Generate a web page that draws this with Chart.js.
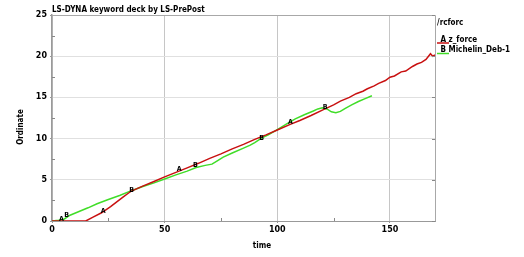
<!DOCTYPE html>
<html>
<head>
<meta charset="utf-8">
<script src="https://cdn.jsdelivr.net/npm/chart.js@4/dist/chart.umd.min.js"></script>
<style>
  html, body { margin: 0; padding: 0; background: #fff; }
  #wrap { width: 524px; height: 257px; }
</style>
</head>
<body>
<div id="wrap"><canvas id="c" width="524" height="257"></canvas></div>
<script>
// ---- data ----
const chartTitle = "LS-DYNA keyword deck by LS-PrePost";
const xTitle = "time";
const yTitle = "Ordinate";
const legendHeader = "/rcforc";
const seriesNames = ["z_force", "Michelin_Deb-1"];
const seriesTags = ["A", "B"];

const xTicks = [0, 50, 100, 150];
const yTicks = [0, 5, 10, 15, 20, 25];
const xMinorTicks = [25, 75, 125];
const yMinorTicks = [2.5, 7.5, 12.5, 17.5, 22.5];

// Series A: z_force (red)
const timeA = [0, 15, 18, 22, 26, 31.5, 34, 35, 40, 45, 50, 55, 60, 65, 70, 75, 80, 85, 90, 95, 100, 106, 110, 115, 120, 125, 128, 132, 135, 138, 140, 143, 145, 148, 150, 152, 155, 157, 160, 162, 164, 166, 168, 169, 170];
const valA  = [0, 0, 0.45, 1.0, 1.75, 2.9, 3.4, 3.6, 4.2, 4.77, 5.35, 5.9, 6.45, 7.0, 7.6, 8.15, 8.75, 9.3, 9.9, 10.45, 11.05, 11.75, 12.2, 12.8, 13.45, 14.1, 14.55, 15.0, 15.45, 15.75, 16.05, 16.4, 16.7, 17.05, 17.45, 17.6, 18.1, 18.2, 18.75, 19.05, 19.25, 19.6, 20.3, 20.0, 20.15];

// Series B: Michelin_Deb-1 (green)
const timeB = [0, 3, 5.5, 8, 12, 16, 20, 25, 30, 35, 40, 45, 50, 55, 60, 64, 68, 71, 73, 76, 80, 85, 88, 90, 93, 96, 100, 104, 108, 112, 116, 118, 120, 122, 124, 126, 128, 130, 133, 136, 139, 142];
const valB  = [0, 0.1, 0.25, 0.7, 1.15, 1.6, 2.1, 2.6, 3.1, 3.65, 4.15, 4.6, 5.1, 5.6, 6.05, 6.5, 6.75, 6.9, 7.25, 7.75, 8.25, 8.85, 9.2, 9.5, 10.05, 10.45, 11.1, 11.75, 12.4, 12.9, 13.35, 13.6, 13.75, 13.6, 13.25, 13.15, 13.3, 13.65, 14.1, 14.5, 14.85, 15.2];

// Curve tag label positions (data coords)
const tagAx = [4.2, 22.7, 56.4, 105.8];
const tagAy = [0.25, 1.25, 6.27, 12.0];
const tagBx = [6.5, 35.3, 63.7, 93.1, 121.2];
const tagBy = [0.73, 3.76, 6.8, 10.1, 13.87];

// ---- styling ----
const RED = "#c81010";
const GREEN = "#40dd28";
const FONT = "'DejaVu Sans Condensed', 'DejaVu Sans'";

const toPts = (xs, ys) => xs.map((x, i) => ({ x: x, y: ys[i] }));

const overlay = {
  id: "overlay",
  afterDraw(chart) {
    const ctx = chart.ctx;
    const a = chart.chartArea;
    const sx = chart.scales.x, sy = chart.scales.y;
    ctx.save();
    // frame top/right
    ctx.strokeStyle = "#a8a8a8";
    ctx.lineWidth = 1;
    ctx.beginPath();
    ctx.moveTo(a.left, a.top + 0.5); ctx.lineTo(a.right + 0.5, a.top + 0.5);
    ctx.lineTo(a.right + 0.5, a.bottom);
    ctx.stroke();
    // minor ticks
    ctx.strokeStyle = "#888";
    ctx.beginPath();
    yMinorTicks.forEach(v => { const p = Math.round(sy.getPixelForValue(v)) + 0.5; ctx.moveTo(a.left, p); ctx.lineTo(a.left + 3, p); });
    xMinorTicks.forEach(v => { const p = Math.round(sx.getPixelForValue(v)) + 0.5; ctx.moveTo(p, a.bottom); ctx.lineTo(p, a.bottom - 3); });
    yTicks.forEach(v => { const p = Math.round(sy.getPixelForValue(v)) + 0.5; ctx.moveTo(a.right, p); ctx.lineTo(a.right - 3, p); });
    ctx.stroke();

    ctx.fillStyle = "#000";
    ctx.font = "bold 8px " + FONT;
    ctx.textAlign = "left"; ctx.textBaseline = "middle";
    ctx.fillText(chartTitle, 52, 9.5);
    ctx.textAlign = "center";
    ctx.fillText(xTitle, 262, 246);
    ctx.save();
    ctx.translate(20.5, 127);
    ctx.rotate(-Math.PI / 2);
    ctx.fillText(yTitle, 0, 0);
    ctx.restore();
    // legend
    ctx.textAlign = "left";
    ctx.fillText(legendHeader, 437, 22.5);
    const colors = [RED, GREEN];
    const ly = [39.5, 50];
    for (let i = 0; i < 2; i++) {
      ctx.fillStyle = "#000";
      ctx.fillText(seriesTags[i] + " " + seriesNames[i], 440.5, ly[i]);
      ctx.strokeStyle = colors[i];
      ctx.lineWidth = 1.5;
      ctx.beginPath();
      ctx.moveTo(437, ly[i] + 3.5); ctx.lineTo(449, ly[i] + 3.5);
      ctx.stroke();
    }
    // curve tags
    ctx.fillStyle = "#000";
    ctx.font = "bold 7px " + FONT;
    ctx.textAlign = "center";
    tagAx.forEach((x, i) => ctx.fillText("A", sx.getPixelForValue(x), sy.getPixelForValue(tagAy[i])));
    tagBx.forEach((x, i) => ctx.fillText("B", sx.getPixelForValue(x), sy.getPixelForValue(tagBy[i])));
    ctx.restore();
  }
};

new Chart(document.getElementById("c"), {
  type: "scatter",
  data: {
    datasets: [
      { label: seriesTags[0] + " " + seriesNames[0], data: toPts(timeA, valA), showLine: true, borderColor: RED, backgroundColor: RED, borderWidth: 1.5, pointRadius: 0, tension: 0 },
      { label: seriesTags[1] + " " + seriesNames[1], data: toPts(timeB, valB), showLine: true, borderColor: GREEN, backgroundColor: GREEN, borderWidth: 1.5, pointRadius: 0, tension: 0 }
    ]
  },
  options: {
    responsive: false,
    animation: false,
    devicePixelRatio: 1,
    layout: { padding: { left: 0, top: 15, right: 89, bottom: 0 } },
    plugins: { legend: { display: false }, title: { display: false }, tooltip: { enabled: false } },
    scales: {
      x: {
        type: "linear", min: 0, max: 170,
        afterBuildTicks: s => { s.ticks = xTicks.map(v => ({ value: v })); },
        afterFit: s => { s.height = 36; },
        grid: { color: "#c6c6c6", lineWidth: 1, drawTicks: true, tickLength: 2, tickColor: "#999" },
        border: { color: "#999", width: 1 },
        ticks: { color: "#000", font: { family: "DejaVu Sans", size: 8, weight: "bold" }, padding: 2, maxRotation: 0 }
      },
      y: {
        type: "linear", min: 0, max: 25,
        afterBuildTicks: s => { s.ticks = yTicks.map(v => ({ value: v })); },
        afterFit: s => { s.width = 52; },
        grid: { color: "#e0e0e0", lineWidth: 1, drawTicks: true, tickLength: 2, tickColor: "#999" },
        border: { color: "#9a9a9a", width: 1.5 },
        ticks: { color: "#000", font: { family: "DejaVu Sans", size: 8, weight: "bold" }, padding: 3 }
      }
    }
  },
  plugins: [overlay]
});
</script>
</body>
</html>
